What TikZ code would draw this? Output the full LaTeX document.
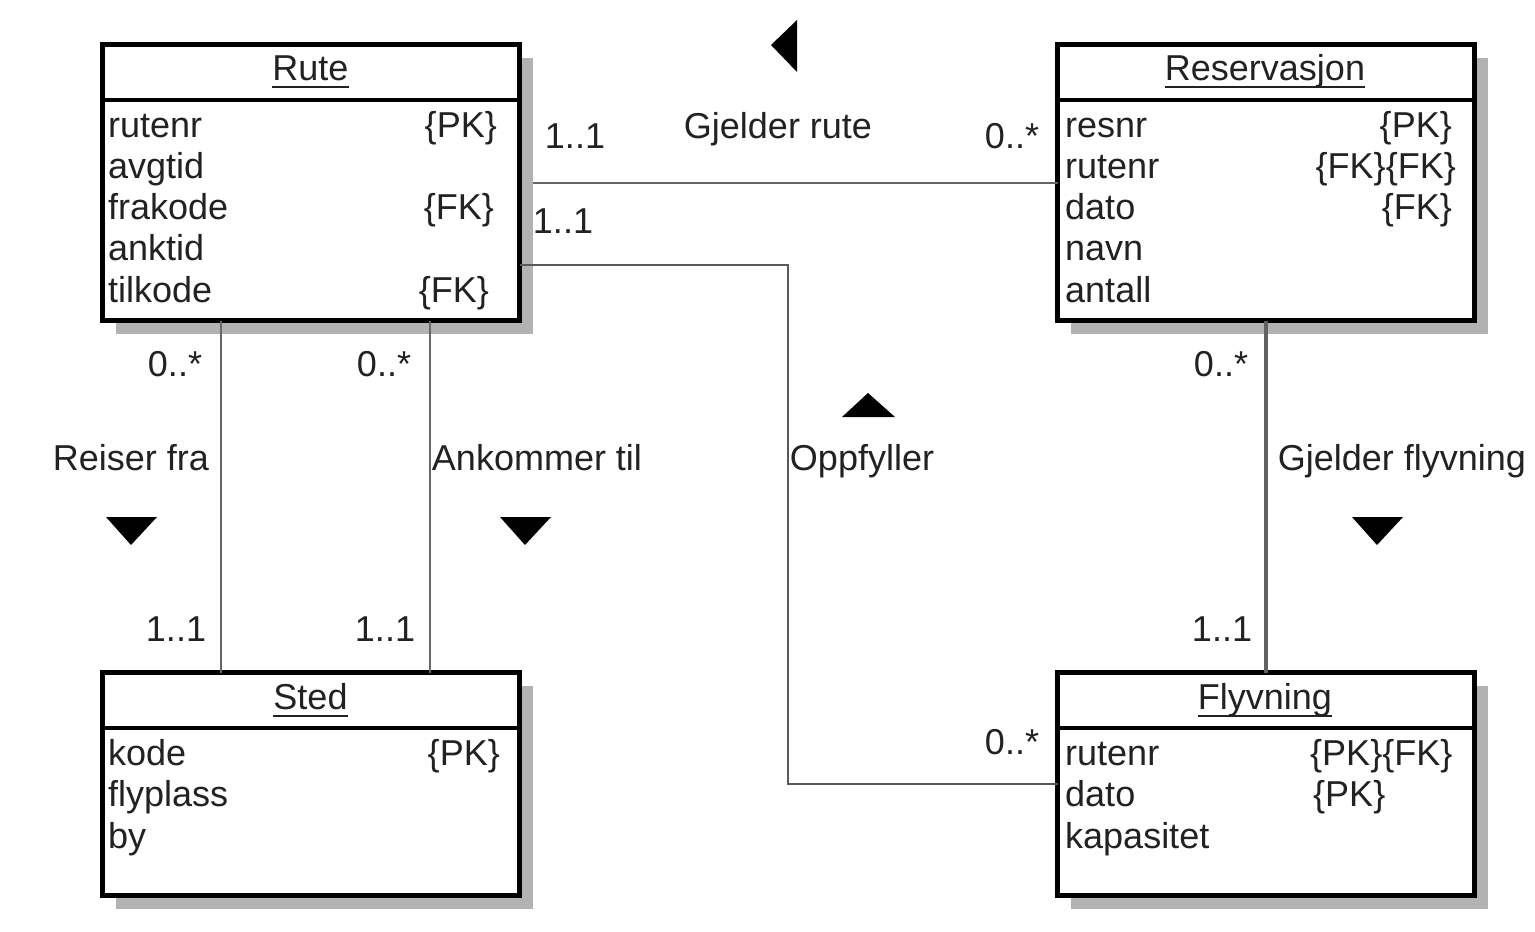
\documentclass[tikz,border=0pt]{standalone}
\usepackage{fontspec}
\setmainfont{Liberation Sans}
\usetikzlibrary{shadows}
\definecolor{txt}{HTML}{222222}
\definecolor{shd}{HTML}{B2B2B2}
\definecolor{cn}{HTML}{666666}
\begin{document}
\begin{tikzpicture}[x=1pt,y=-1pt,
  font=\fontsize{36}{42}\selectfont,
  entity/.style={draw=black,line width=5pt,fill=white,anchor=north west,outer sep=0pt,inner sep=0pt,
    minimum width=417pt,drop shadow={shadow xshift=13pt,shadow yshift=-13pt,fill=shd,opacity=1}},
  divider/.style={line width=4pt,black},
  ttl/.style={anchor=base,inner sep=0pt,text=txt},
  uline/.style={line width=1.6pt,txt},
  attr/.style={anchor=base west,inner sep=0pt,text=txt},
  key/.style={anchor=base east,inner sep=0pt,text=txt},
  keyw/.style={anchor=base west,inner sep=0pt,text=txt},
  lbl/.style={anchor=base,inner sep=0pt,text=txt},
  conn/.style={draw=cn,line width=2pt},
  tri/.style={fill=black}]
\useasboundingbox (0,0) rectangle (1535,932);
\fill[white] (0,0) rectangle (1535,932);

% entities
\node[entity,minimum height=276pt] (rute) at (102.5,44.5) {};
\node[entity,minimum height=276pt] (res) at (1057.5,44.5) {};
\node[entity,minimum height=223pt] (sted) at (102.5,672.5) {};
\node[entity,minimum height=223pt] (fly) at (1057.5,672.5) {};

\draw[divider] ([yshift=-55.5pt]rute.north west) -- ([yshift=-55.5pt]rute.north east);
\draw[divider] ([yshift=-55.5pt]res.north west) -- ([yshift=-55.5pt]res.north east);
\draw[divider] ([yshift=-55pt]sted.north west) -- ([yshift=-55pt]sted.north east);
\draw[divider] ([yshift=-55pt]fly.north west) -- ([yshift=-55pt]fly.north east);

% titles
\node[ttl] (tRute) at (310.5,80) {Rute};
\node[ttl] (tRes) at (1265,80) {Reservasjon};
\node[ttl] (tSted) at (310.5,709) {Sted};
\node[ttl] (tFly) at (1265,709) {Flyvning};
\foreach \t in {tRute,tRes,tSted,tFly}
  \draw[uline] ([yshift=-7pt]\t.base west) -- ([yshift=-7pt]\t.base east);

% Rute attributes
\node[attr] (ra1) at (108,137) {rutenr};
\node[attr] (ra2) at (108,178) {avgtid};
\node[attr] (ra3) at (108,219) {frakode};
\node[attr] (ra4) at (108,260) {anktid};
\node[attr] (ra5) at (108,302) {tilkode};
\node[key] (rk1) at (497,137) {\{PK\}};
\node[key] (rk3) at (494,219) {\{FK\}};
\node[key] (rk5) at (489,302) {\{FK\}};

% Reservasjon attributes
\node[attr] (sa1) at (1065,137) {resnr};
\node[attr] (sa2) at (1065,178) {rutenr};
\node[attr] (sa3) at (1065,219) {dato};
\node[attr] (sa4) at (1065,260) {navn};
\node[attr] (sa5) at (1065,302) {antall};
\node[key] (sk1) at (1452,137) {\{PK\}};
\node[key] (sk2) at (1456,178) {\{FK\}\{FK\}};
\node[key] (sk3) at (1452,219) {\{FK\}};

% Sted attributes
\node[attr] (da1) at (108,765) {kode};
\node[attr] (da2) at (108,806) {flyplass};
\node[attr] (da3) at (108,848) {by};
\node[key] (dk1) at (500,765) {\{PK\}};

% Flyvning attributes
\node[attr] (fa1) at (1065,765) {rutenr};
\node[attr] (fa2) at (1065,806) {dato};
\node[attr] (fa3) at (1065,848) {kapasitet};
\node[keyw] (fk1) at (1310,765) {\{PK\}\{FK\}};
\node[keyw] (fk2) at (1313,806) {\{PK\}};

% connectors
\coordinate (gr) at (0,183);
\draw[conn,line width=1.6pt] ([xshift=13pt]rute.east |- gr) -- (res.west |- gr);
\coordinate (o1) at (0,265);
\coordinate (o2) at (788,784);
\draw[conn,line width=2.6pt,draw=black!65] (rute.east |- o1) -| (o2) -- (fly.west |- o2);
\coordinate (rf) at (221,0);
\draw[conn] (rute.south -| rf) -- (sted.north -| rf);
\coordinate (at) at (430,0);
\draw[conn] (rute.south -| at) -- (sted.north -| at);
\draw[conn,line width=3.5pt,draw=black!62] (res.south) -- (fly.north);

% direction markers
\fill[tri] (771,45) -- (797,20) -- (797,72) -- cycle;
\fill[tri] (868,393) -- (895,417) -- (842,417) -- cycle;
\fill[tri] (106,517) -- (157,517) -- (131,545) -- cycle;
\fill[tri] (500,517) -- (551,517) -- (525,545) -- cycle;
\fill[tri] (1352,517) -- (1403,517) -- (1377,545) -- cycle;

% labels
\node[lbl] (l1) at (575,148) {1..1};
\node[lbl] (l2) at (778,138) {Gjelder rute};
\node[lbl] (l3) at (1012,148) {0..*};
\node[lbl] (l4) at (563,233) {1..1};
\node[lbl] (l5) at (175,376) {0..*};
\node[lbl] (l6) at (384,376) {0..*};
\node[lbl] (l7) at (1221,376) {0..*};
\node[lbl] (l8) at (176,641) {1..1};
\node[lbl] (l9) at (385,641) {1..1};
\node[lbl] (l10) at (1222,641) {1..1};
\node[lbl] (l11) at (131,470) {Reiser fra};
\node[lbl] (l12) at (537,470) {Ankommer til};
\node[lbl] (l13) at (862,470) {Oppfyller};
\node[lbl] (l14) at (1402,470) {Gjelder flyvning};
\node[lbl] (l15) at (1012,754) {0..*};
\end{tikzpicture}
\end{document}
